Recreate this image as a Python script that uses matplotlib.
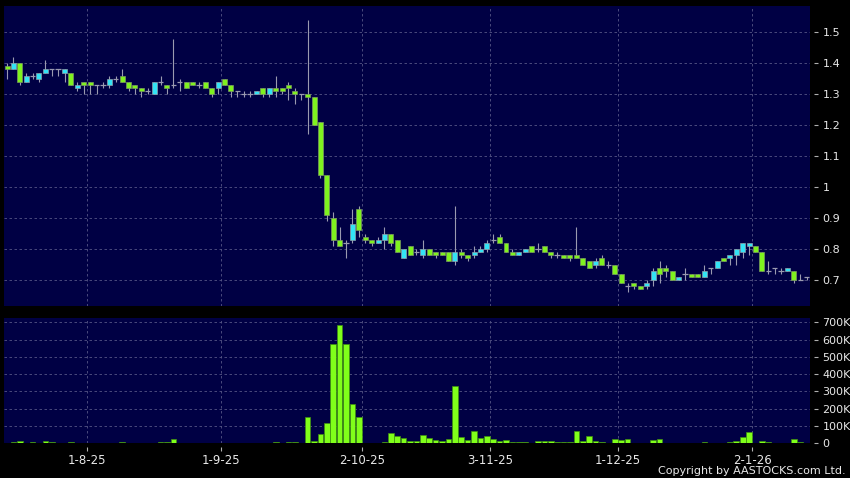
import numpy as np
import pandas as pd
import matplotlib
matplotlib.use('Agg')
import matplotlib.pyplot as plt

#-- Daily OHLC (HKD), 15-7-25 .. 14-1-26
opens = [1.39, 1.38, 1.40, 1.34, 1.36, 1.35, 1.37, 1.38, 1.38, 1.37,
         1.37, 1.32, 1.34, 1.34, 1.33, 1.33, 1.33, 1.35, 1.36, 1.34,
         1.33, 1.32, 1.31, 1.30, 1.34, 1.33, 1.33, 1.34, 1.34, 1.34,
         1.33, 1.34, 1.32, 1.32, 1.35, 1.33, 1.31, 1.30, 1.30, 1.30,
         1.32, 1.30, 1.32, 1.32, 1.33, 1.31, 1.30, 1.30, 1.29, 1.21,
         1.04, 0.90, 0.83, 0.82, 0.83, 0.93, 0.84, 0.83, 0.82, 0.83,
         0.85, 0.83, 0.77, 0.81, 0.79, 0.78, 0.80, 0.79, 0.79, 0.79,
         0.76, 0.79, 0.78, 0.78, 0.79, 0.80, 0.83, 0.84, 0.82, 0.79,
         0.78, 0.79, 0.81, 0.80, 0.81, 0.79, 0.78, 0.78, 0.78, 0.78,
         0.77, 0.76, 0.75, 0.77, 0.75, 0.75, 0.72, 0.68, 0.69, 0.68,
         0.68, 0.70, 0.74, 0.74, 0.73, 0.70, 0.72, 0.72, 0.72, 0.71,
         0.74, 0.74, 0.77, 0.77, 0.78, 0.79, 0.81, 0.81, 0.79, 0.73,
         0.74, 0.73, 0.73, 0.73, 0.70, 0.71]
highs = [1.40, 1.42, 1.40, 1.37, 1.37, 1.37, 1.41, 1.38, 1.38, 1.38,
         1.37, 1.34, 1.34, 1.34, 1.33, 1.34, 1.36, 1.36, 1.38, 1.34,
         1.33, 1.32, 1.32, 1.34, 1.36, 1.33, 1.48, 1.35, 1.34, 1.34,
         1.34, 1.34, 1.32, 1.34, 1.35, 1.33, 1.31, 1.31, 1.31, 1.31,
         1.32, 1.32, 1.36, 1.32, 1.34, 1.32, 1.30, 1.54, 1.29, 1.21,
         1.04, 0.92, 0.87, 0.83, 0.93, 0.94, 0.85, 0.83, 0.84, 0.87,
         0.85, 0.83, 0.80, 0.81, 0.80, 0.83, 0.80, 0.79, 0.79, 0.79,
         0.94, 0.80, 0.78, 0.81, 0.81, 0.83, 0.85, 0.85, 0.82, 0.80,
         0.79, 0.80, 0.81, 0.82, 0.81, 0.79, 0.79, 0.78, 0.78, 0.87,
         0.77, 0.76, 0.77, 0.78, 0.76, 0.75, 0.72, 0.69, 0.69, 0.68,
         0.70, 0.74, 0.76, 0.75, 0.73, 0.71, 0.74, 0.72, 0.72, 0.75,
         0.74, 0.76, 0.77, 0.78, 0.80, 0.82, 0.82, 0.81, 0.79, 0.76,
         0.74, 0.74, 0.74, 0.73, 0.72, 0.71]
lows = [1.35, 1.38, 1.33, 1.34, 1.35, 1.34, 1.37, 1.36, 1.36, 1.34,
        1.33, 1.31, 1.30, 1.30, 1.30, 1.32, 1.32, 1.34, 1.34, 1.31,
        1.30, 1.29, 1.30, 1.30, 1.33, 1.30, 1.32, 1.31, 1.32, 1.33,
        1.32, 1.32, 1.29, 1.30, 1.33, 1.29, 1.29, 1.29, 1.29, 1.30,
        1.29, 1.29, 1.29, 1.30, 1.28, 1.27, 1.28, 1.17, 1.20, 1.03,
        0.89, 0.81, 0.81, 0.77, 0.82, 0.84, 0.82, 0.81, 0.82, 0.80,
        0.81, 0.79, 0.77, 0.78, 0.78, 0.77, 0.78, 0.77, 0.78, 0.76,
        0.75, 0.77, 0.76, 0.77, 0.79, 0.79, 0.82, 0.82, 0.79, 0.78,
        0.78, 0.79, 0.79, 0.79, 0.79, 0.77, 0.77, 0.77, 0.76, 0.77,
        0.75, 0.74, 0.74, 0.75, 0.74, 0.72, 0.69, 0.66, 0.67, 0.67,
        0.67, 0.68, 0.69, 0.71, 0.70, 0.70, 0.70, 0.71, 0.71, 0.71,
        0.72, 0.74, 0.76, 0.75, 0.75, 0.77, 0.78, 0.79, 0.73, 0.72,
        0.72, 0.72, 0.73, 0.69, 0.70, 0.70]
closes = [1.38, 1.40, 1.34, 1.36, 1.36, 1.37, 1.38, 1.38, 1.38, 1.38,
          1.33, 1.33, 1.33, 1.33, 1.33, 1.33, 1.35, 1.35, 1.34, 1.32,
          1.32, 1.31, 1.31, 1.34, 1.34, 1.32, 1.33, 1.34, 1.32, 1.33,
          1.33, 1.32, 1.30, 1.34, 1.33, 1.31, 1.31, 1.30, 1.30, 1.31,
          1.30, 1.32, 1.31, 1.31, 1.32, 1.30, 1.30, 1.29, 1.20, 1.04,
          0.91, 0.83, 0.81, 0.82, 0.88, 0.86, 0.83, 0.82, 0.83, 0.85,
          0.82, 0.79, 0.80, 0.78, 0.79, 0.80, 0.78, 0.78, 0.78, 0.76,
          0.79, 0.78, 0.77, 0.79, 0.80, 0.82, 0.83, 0.82, 0.79, 0.78,
          0.79, 0.80, 0.79, 0.80, 0.79, 0.78, 0.78, 0.77, 0.77, 0.77,
          0.75, 0.74, 0.76, 0.75, 0.75, 0.72, 0.69, 0.68, 0.68, 0.67,
          0.69, 0.73, 0.72, 0.73, 0.70, 0.71, 0.72, 0.71, 0.71, 0.73,
          0.74, 0.76, 0.76, 0.78, 0.80, 0.82, 0.82, 0.79, 0.73, 0.73,
          0.74, 0.73, 0.74, 0.70, 0.70, 0.71]
#-- Volume in thousands of shares
volumes_k = [1, 8, 15, 2, 8, 2, 13, 8, 2, 2,
             8, 1, 1, 1, 1, 1, 1, 2, 6, 1,
             1, 1, 1, 2, 8, 6, 25, 1, 1, 1,
             2, 1, 1, 3, 1, 1, 1, 1, 1, 1,
             1, 1, 6, 1, 5, 5, 1, 154, 12, 56,
             118, 572, 684, 572, 229, 150, 4, 1, 1, 6,
             60, 42, 31, 13, 13, 46, 29, 17, 12, 23,
             333, 35, 17, 69, 31, 40, 25, 13, 17, 8,
             6, 6, 2, 15, 12, 13, 10, 8, 6, 71,
             15, 44, 12, 8, 2, 25, 19, 25, 3, 3,
             4, 19, 25, 3, 3, 2, 2, 2, 2, 8,
             3, 3, 3, 6, 12, 38, 65, 1, 13, 5,
             2, 2, 1, 23, 7, 2]

holidays = ['2025-10-01', '2025-10-07', '2025-10-29',
            '2025-12-25', '2025-12-26', '2026-01-01']
tick_dates = ['2025-08-01', '2025-09-01', '2025-10-02',
              '2025-11-03', '2025-12-01', '2026-01-02']
price_ticks = [0.7, 0.8, 0.9, 1.0, 1.1, 1.2, 1.3, 1.4, 1.5]
price_labels = ['0.7', '0.8', '0.9', '1', '1.1', '1.2', '1.3', '1.4', '1.5']
vol_ticks = [0, 100e3, 200e3, 300e3, 400e3, 500e3, 600e3, 700e3]
vol_labels = ['0', '100K', '200K', '300K', '400K', '500K', '600K', '700K']

#-- Trading calendar
dates = pd.bdate_range('2025-07-15', '2026-01-14')
dates = dates[~dates.isin(pd.to_datetime(holidays))]
x = np.arange(len(dates))
tick_idx = dates.get_indexer(pd.to_datetime(tick_dates))
tick_text = ['%d-%d-%s' % (d.day, d.month, d.strftime('%y'))
             for d in pd.to_datetime(tick_dates)]

o = np.array(opens)
h = np.array(highs)
l = np.array(lows)
c = np.array(closes)
v = np.array(volumes_k) * 1000.0

#-- Colours
bg = '#000000'
panel = '#000044'
gridc = '#555585'
wick = '#9a9ab0'
up_col = '#33e3f5'
dn_col = '#7ff21f'
txt = '#e8e8e8'

fig = plt.figure(figsize=(8.5, 4.78), dpi=100, facecolor=bg)
ax1 = fig.add_axes([4/850, 1-306/478, 806/850, 300.3/478])
ax2 = fig.add_axes([4/850, 1-443.3/478, 806/850, 125/478])

for ax in (ax1, ax2):
    ax.set_facecolor(panel)
    ax.set_xlim(-0.47, len(x) - 0.48)
    for s in ('top', 'left', 'bottom'):
        ax.spines[s].set_visible(False)
    ax.spines['right'].set_position(('outward', 3))
    ax.spines['right'].set_visible(False)
    ax.yaxis.tick_right()
    ax.set_xticks(tick_idx - 0.5)
    ax.grid(True, color=gridc, linestyle=(0, (3, 3)), linewidth=0.6)
    ax.set_axisbelow(True)
    ax.tick_params(axis='y', colors='#b0b0b0', labelcolor=txt, length=3,
                   width=0.8, pad=3, labelsize=8)

#-- Price candles
ax1.vlines(x, l, h, color=wick, linewidth=0.8, zorder=2)
up = c > o
dn = c < o
flat = c == o
ax1.bar(x[up], (c - o)[up], bottom=o[up], width=0.78, color=up_col,
        edgecolor='#8fa0a8', linewidth=0.5, zorder=3)
ax1.bar(x[dn], (o - c)[dn], bottom=c[dn], width=0.78, color=dn_col,
        edgecolor='#7a9a60', linewidth=0.5, zorder=3)
ax1.hlines(o[flat], x[flat] - 0.42, x[flat] + 0.42, color=wick,
           linewidth=0.9, zorder=3)
ax1.set_ylim(0.616, 1.586)
ax1.set_yticks(price_ticks)
ax1.set_yticklabels(price_labels)
ax1.tick_params(axis='x', length=0, labelbottom=False)

#-- Volume bars
ax2.bar(x, v, width=0.88, color='#80ff1a', edgecolor='#3f8f10',
        linewidth=0.5, zorder=3)
ax2.set_ylim(0, 723e3)
ax2.set_yticks(vol_ticks)
ax2.set_yticklabels(vol_labels)
ax2.spines['bottom'].set_position(('outward', 3))
ax2.set_xticklabels(tick_text)
ax2.tick_params(axis='x', colors='#b0b0b0', labelcolor=txt, length=3,
                width=0.8, pad=2, labelsize=8.5)

fig.text(846/850, 1 - 471/478, 'Copyright by AASTOCKS.com Ltd.',
         color=txt, fontsize=8, ha='right', va='center')

plt.savefig('out.png', dpi=100, facecolor=bg)
